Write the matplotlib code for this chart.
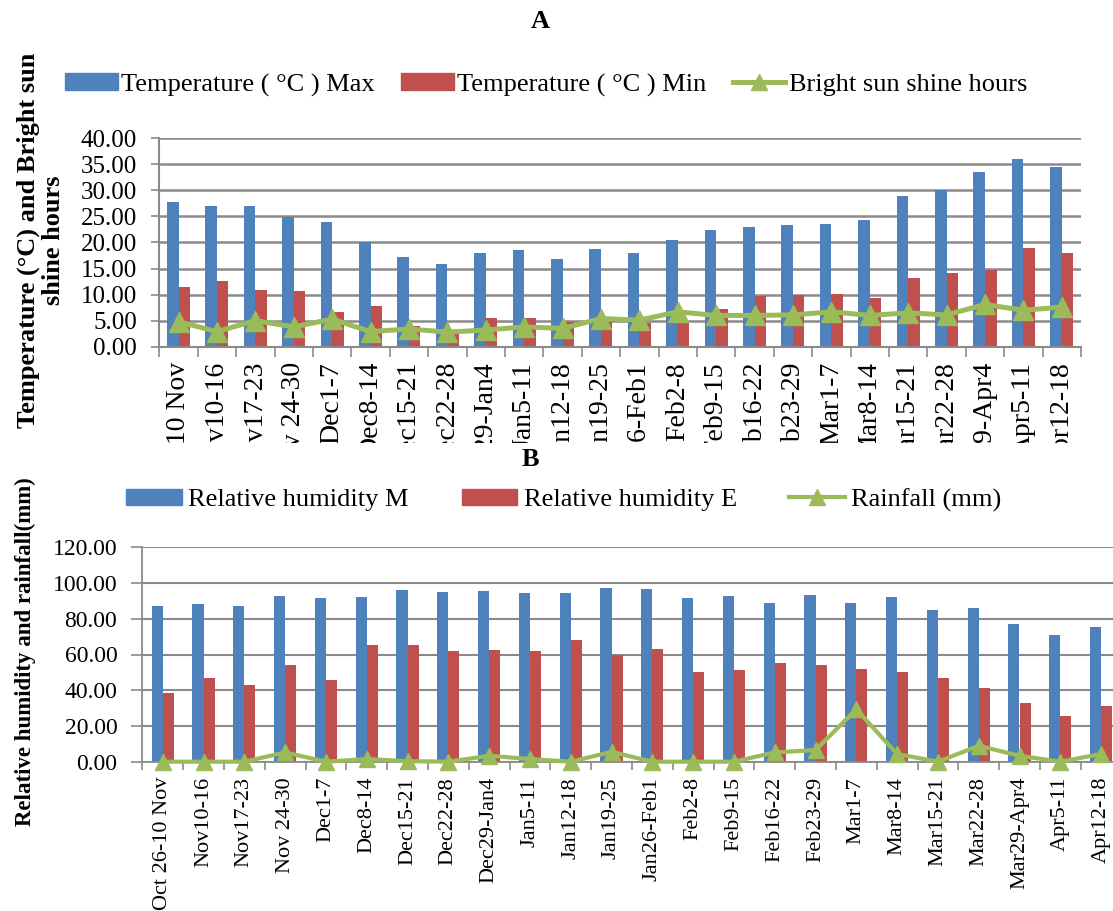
import matplotlib
matplotlib.use("Agg")
import matplotlib.pyplot as plt
from matplotlib.patches import Patch
from matplotlib.lines import Line2D
from matplotlib.transforms import Bbox, TransformedBbox
import numpy as np

plt.rcParams['font.family'] = ['Liberation Serif', 'DejaVu Serif']

weeks = ["Oct 26-10 Nov", "Nov10-16", "Nov17-23", "Nov 24-30", "Dec1-7", "Dec8-14",
         "Dec15-21", "Dec22-28", "Dec29-Jan4", "Jan5-11", "Jan12-18", "Jan19-25",
         "Jan26-Feb1", "Feb2-8", "Feb9-15", "Feb16-22", "Feb23-29", "Mar1-7",
         "Mar8-14", "Mar15-21", "Mar22-28", "Mar29-Apr4", "Apr5-11", "Apr12-18"]

temp_max = [27.8, 27.0, 27.0, 24.8, 24.0, 20.0, 17.2, 15.8, 18.0, 18.5, 16.9, 18.7,
            17.9, 20.5, 22.4, 22.9, 23.4, 23.6, 24.4, 28.9, 30.0, 33.5, 36.0, 34.5]
temp_min = [11.4, 12.7, 10.8, 10.7, 6.7, 7.9, 4.0, 2.5, 5.6, 5.6, 4.8, 4.7,
            4.5, 4.8, 7.2, 9.8, 10.0, 10.1, 9.3, 13.1, 14.1, 14.7, 18.9, 18.0]
sunshine = [4.8, 2.9, 5.0, 3.8, 5.3, 2.9, 3.4, 2.8, 3.2, 3.8, 3.5, 5.4,
            5.1, 6.7, 6.0, 6.0, 6.1, 6.7, 6.0, 6.5, 6.1, 8.1, 7.0, 7.6]

rh_m = [87.3, 88.4, 87.4, 92.5, 91.5, 92.3, 96.0, 95.1, 95.3, 94.3, 94.7, 97.3,
        96.6, 91.5, 93.0, 89.1, 93.4, 89.1, 92.1, 85.0, 86.0, 77.0, 70.7, 75.5]
rh_e = [38.5, 46.9, 42.8, 54.1, 46.0, 65.1, 65.1, 61.8, 62.7, 61.8, 68.3, 59.9,
        62.9, 50.4, 51.3, 55.1, 54.0, 51.9, 50.4, 46.9, 41.3, 32.9, 25.3, 30.9]
rainfall = [0.0, 0.0, 0.0, 5.2, 0.0, 1.5, 0.3, 0.0, 3.3, 1.5, 0.0, 5.5,
            0.0, 0.0, 0.0, 5.2, 6.5, 29.3, 4.3, 0.0, 8.9, 3.3, 0.0, 4.3]

BLUE = "#4F81BD"
RED = "#C0504D"
GREEN = "#9BBB59"
GRID = "#8a8a8a"

W, H = 1113, 911
fig = plt.figure(figsize=(W / 100, H / 100), dpi=100)

def fx(px):
    return px / W

def fy(py):
    return 1 - py / H

x = np.arange(len(weeks))

# ---------------- Panel A ----------------
axA = fig.add_axes([fx(159.3), fy(346.7), fx(1081 - 159.3), (346.7 - 138.3) / H])
bw = 0.30
axA.bar(x - bw / 2, temp_max, bw, color=BLUE, zorder=2)
axA.bar(x + bw / 2, temp_min, bw, color=RED, zorder=2)
axA.plot(x, sunshine, color=GREEN, lw=3.6, marker='^', ms=14, zorder=4)
axA.set_ylim(0, 40)
axA.set_xlim(-0.5, len(weeks) - 0.5)
axA.set_yticks(np.arange(0, 40.1, 5))
axA.set_yticklabels([f"{v:.2f}" for v in np.arange(0, 40.1, 5)], fontsize=18)
axA.yaxis.grid(True, color=GRID, lw=1.8, zorder=0)
axA.set_axisbelow(True)
for s in ['top', 'right']:
    axA.spines[s].set_visible(False)
for s in ['left', 'bottom']:
    axA.spines[s].set_color(GRID)
    axA.spines[s].set_linewidth(1.5)
axA.tick_params(axis='y', length=6, width=1.2, color=GRID, pad=10)
axA.set_xticks(x)
axA.set_xticklabels(weeks, rotation=90, fontsize=20, va='top', ha='center')
axA.tick_params(axis='x', which='major', length=0, pad=11)
axA.set_xticks(np.arange(-0.5, len(weeks)), minor=True)
axA.tick_params(axis='x', which='minor', length=7, width=1.2, color=GRID)
clipA = TransformedBbox(Bbox([[0, fy(443)], [1, 1]]), fig.transFigure)
for lab in axA.get_xticklabels():
    lab.set_clip_on(True)
    lab.set_clip_box(clipA)

fig.text(fx(41), fy(240), "Temperature (°C) and Bright sun\nshine hours", fontsize=19,
         fontweight='bold', linespacing=1.12, rotation=90, ha='center', va='center',
         multialignment='center')

fig.text(fx(540), fy(22), "A", fontsize=19, fontweight='bold', ha='center', va='center')

hA = [Patch(color=BLUE), Patch(color=RED),
      Line2D([], [], color=GREEN, lw=3.6, marker='^', ms=12)]
fig.legend(hA, ["Temperature ( °C ) Max", "Temperature ( °C ) Min", "Bright sun shine hours"],
           loc='center', bbox_to_anchor=(fx(546), fy(85)), ncol=3, frameon=False,
           fontsize=19, handlelength=2.0, handletextpad=0.12, columnspacing=1.0,
           borderpad=0, handleheight=0.6)

# ---------------- Panel B ----------------
axB = fig.add_axes([fx(142.3), fy(761.7), fx(979.2), (761.7 - 547.3) / H])
bw2 = 0.27
axB.bar(x - bw2 / 2, rh_m, bw2, color=BLUE, zorder=2)
axB.bar(x + bw2 / 2, rh_e, bw2, color=RED, zorder=2)
axB.plot(x, rainfall, color=GREEN, lw=3.0, marker='^', ms=12, zorder=4, clip_on=False)
axB.set_ylim(0, 120)
axB.set_xlim(-0.5, len(weeks) - 0.5)
axB.set_yticks(np.arange(0, 120.1, 20))
axB.set_yticklabels([f"{v:.2f}" for v in np.arange(0, 120.1, 20)], fontsize=17)
axB.yaxis.grid(True, color=GRID, lw=1.5, zorder=0)
axB.set_axisbelow(True)
for s in ['top', 'right']:
    axB.spines[s].set_visible(False)
for s in ['left', 'bottom']:
    axB.spines[s].set_color(GRID)
    axB.spines[s].set_linewidth(1.3)
axB.tick_params(axis='y', length=8, width=1.2, color=GRID, pad=10)
axB.set_xticks(x)
axB.set_xticklabels(weeks, rotation=90, fontsize=16, va='top', ha='center')
axB.tick_params(axis='x', which='major', length=0, pad=11)
axB.set_xticks(np.arange(-0.5, len(weeks)), minor=True)
axB.tick_params(axis='x', which='minor', length=6, width=1.2, color=GRID)

fig.text(fx(25), fy(652), "Relative humidity and rainfall(mm)", fontsize=16.5,
         fontweight='bold', rotation=90, ha='center', va='center')

fig.text(fx(530), fy(460), "B", fontsize=19, fontweight='bold', ha='center', va='center')

hB = [Patch(color=BLUE), Patch(color=RED),
      Line2D([], [], color=GREEN, lw=3.0, marker='^', ms=11)]
fig.legend(hB, ["Relative humidity M", "Relative humidity E", "Rainfall (mm)"],
           loc='center', bbox_to_anchor=(fx(564), fy(500)), ncol=3, frameon=False,
           fontsize=19, handlelength=2.1, handletextpad=0.25, columnspacing=2.0,
           borderpad=0, handleheight=0.6)

fig.savefig("out.png", dpi=100)
